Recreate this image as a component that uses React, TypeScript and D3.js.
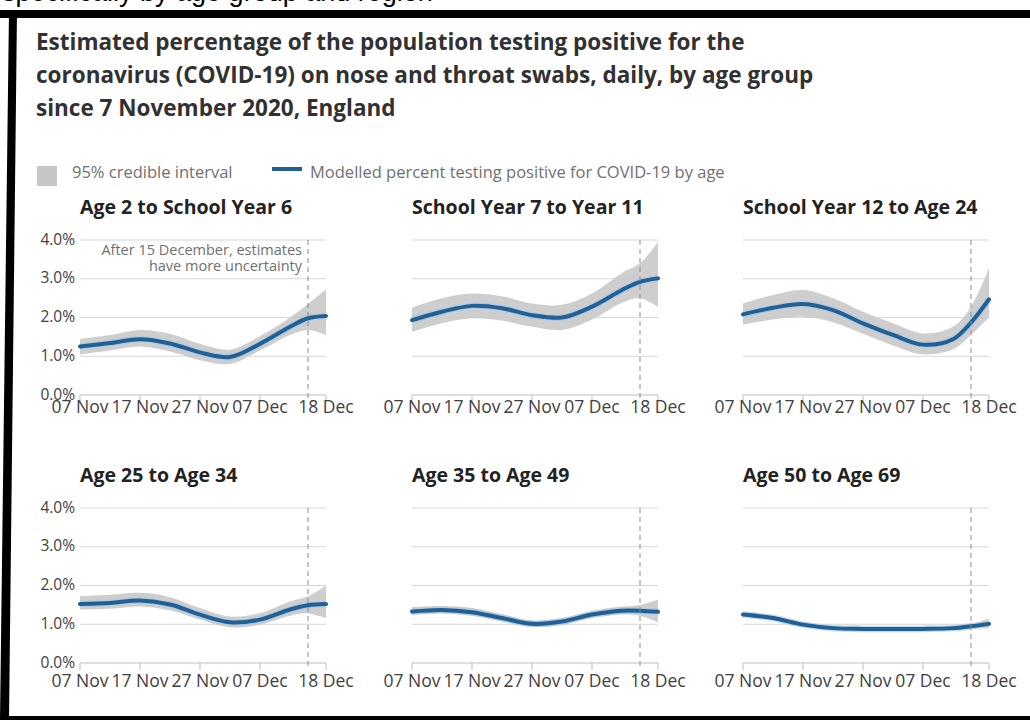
import * as d3 from "d3";
import { useEffect, useRef } from "react";

// sample days after 7 Nov 2020
const days = [0, 5, 10, 15, 20, 25, 30, 35, 38, 41];

const panelTitles = [
  "Age 2 to School Year 6",
  "School Year 7 to Year 11",
  "School Year 12 to Age 24",
  "Age 25 to Age 34",
  "Age 35 to Age 49",
  "Age 50 to Age 69",
];

const modelled = [
  [1.25, 1.34, 1.44, 1.33, 1.1, 0.98, 1.32, 1.76, 1.98, 2.04],
  [1.93, 2.15, 2.3, 2.24, 2.06, 2.0, 2.28, 2.71, 2.92, 3.01],
  [2.08, 2.25, 2.35, 2.19, 1.85, 1.55, 1.3, 1.44, 1.87, 2.47],
  [1.52, 1.55, 1.61, 1.51, 1.25, 1.05, 1.12, 1.38, 1.49, 1.52],
  [1.33, 1.37, 1.31, 1.16, 1.01, 1.07, 1.25, 1.35, 1.35, 1.32],
  [1.25, 1.16, 0.99, 0.9, 0.88, 0.88, 0.88, 0.9, 0.95, 1.01],
];

const upper = [
  [1.45, 1.55, 1.68, 1.58, 1.32, 1.17, 1.52, 2.0, 2.35, 2.72],
  [2.26, 2.5, 2.62, 2.55, 2.36, 2.33, 2.62, 3.15, 3.4, 3.95],
  [2.36, 2.58, 2.71, 2.5, 2.15, 1.85, 1.59, 1.76, 2.28, 3.27],
  [1.72, 1.76, 1.81, 1.7, 1.42, 1.2, 1.29, 1.59, 1.72, 2.0],
  [1.44, 1.47, 1.42, 1.26, 1.1, 1.16, 1.35, 1.46, 1.5, 1.64],
  [1.3, 1.21, 1.04, 0.95, 0.93, 0.93, 0.93, 0.95, 1.01, 1.15],
];

const lower = [
  [1.05, 1.15, 1.25, 1.12, 0.9, 0.8, 1.15, 1.55, 1.68, 1.55],
  [1.63, 1.85, 1.98, 1.92, 1.76, 1.68, 1.95, 2.38, 2.5, 2.28],
  [1.81, 1.95, 2.02, 1.88, 1.58, 1.28, 1.05, 1.18, 1.55, 2.0],
  [1.38, 1.4, 1.46, 1.36, 1.12, 0.92, 0.99, 1.22, 1.28, 1.16],
  [1.24, 1.28, 1.22, 1.07, 0.93, 0.98, 1.16, 1.25, 1.22, 1.05],
  [1.2, 1.11, 0.94, 0.85, 0.83, 0.83, 0.83, 0.85, 0.89, 0.9],
];

const xTickDays = [0, 10, 20, 30, 41];
const xTickLabels = ["07 Nov", "17 Nov", "27 Nov", "07 Dec", "18 Dec"];
const yTicks = [0, 1, 2, 3, 4];
const cutoffDay = 38; // 15 December

const BLUE = "#206095";
const FONT = "'Open Sans', sans-serif";

export default function App() {
  const svgRef = useRef<SVGSVGElement | null>(null);

  useEffect(() => {
    const svg = d3.select(svgRef.current);
    svg.selectAll("*").remove();

    svg.append("rect").attr("width", 1030).attr("height", 720).attr("fill", "#fff");

    // clipped text of the surrounding page, only descenders show
    svg
      .append("text")
      .attr("x", 2)
      .attr("y", 1)
      .attr("font-family", "'Liberation Sans', sans-serif")
      .attr("font-size", 27)
      .attr("fill", "#000")
      .text("specifically by age group and region");

    // screenshot frame
    svg.append("rect").attr("x", 0).attr("y", 10).attr("width", 1030).attr("height", 8).attr("fill", "#000");
    svg.append("polygon").attr("points", "9,10 17,10 9,720 0,720").attr("fill", "#000");
    svg.append("rect").attr("x", 0).attr("y", 716).attr("width", 1030).attr("height", 4).attr("fill", "#000");

    // title
    const titleLines = [
      "Estimated percentage of the population testing positive for the",
      "coronavirus (COVID-19) on nose and throat swabs, daily, by age group",
      "since 7 November 2020, England",
    ];
    svg
      .append("g")
      .selectAll("text")
      .data(titleLines)
      .join("text")
      .attr("x", 36)
      .attr("y", (_, i) => 50 + i * 33)
      .attr("font-family", FONT)
      .attr("font-weight", 700)
      .attr("font-size", 22.5)
      .attr("fill", "#323132")
      .text((d) => d);

    // legend
    const legend = svg.append("g").attr("font-family", FONT).attr("font-size", 16.5).attr("fill", "#707071");
    legend.append("rect").attr("x", 37).attr("y", 166).attr("width", 20).attr("height", 20).attr("fill", "#c6c6c6");
    legend.append("text").attr("x", 72).attr("y", 178).text("95% credible interval");
    legend
      .append("line")
      .attr("x1", 272)
      .attr("x2", 302)
      .attr("y1", 169)
      .attr("y2", 169)
      .attr("stroke", BLUE)
      .attr("stroke-width", 4);
    legend.append("text").attr("x", 310).attr("y", 178).text("Modelled percent testing positive for COVID-19 by age");

    const colX = [80, 412, 743];
    const rowTop = [240, 508];
    const plotW = 246;
    const plotH = 155;
    const labelOffset = [18, 24];

    panelTitles.forEach((title, p) => {
      const col = p % 3;
      const row = Math.floor(p / 3);
      const g = svg.append("g").attr("transform", `translate(${colX[col]},${rowTop[row]})`);

      const x = d3.scaleLinear().domain([0, 41]).range([0, plotW]);
      const y = d3.scaleLinear().domain([0, 4]).range([plotH, 0]);

      g.append("text")
        .attr("x", 0)
        .attr("y", -26)
        .attr("font-family", FONT)
        .attr("font-weight", 700)
        .attr("font-size", 19.5)
        .attr("fill", "#222")
        .text(title);

      // gridlines
      g.selectAll("line.grid")
        .data(yTicks.slice(1))
        .join("line")
        .attr("class", "grid")
        .attr("x1", 0)
        .attr("x2", plotW)
        .attr("y1", (d) => y(d))
        .attr("y2", (d) => y(d))
        .attr("stroke", "#d6d6d6")
        .attr("stroke-width", 1);

      // axis line + ticks
      g.append("line")
        .attr("x1", 0)
        .attr("x2", plotW)
        .attr("y1", plotH)
        .attr("y2", plotH)
        .attr("stroke", "#bdbdbd");
      g.selectAll("line.tick")
        .data(xTickDays)
        .join("line")
        .attr("class", "tick")
        .attr("x1", (d) => x(d))
        .attr("x2", (d) => x(d))
        .attr("y1", plotH)
        .attr("y2", plotH + 7)
        .attr("stroke", "#bdbdbd");
      g.selectAll("text.xl")
        .data(xTickDays)
        .join("text")
        .attr("class", "xl")
        .attr("x", (d) => x(d))
        .attr("y", plotH + labelOffset[row])
        .attr("text-anchor", "middle")
        .attr("font-family", FONT)
        .attr("font-size", 17.5)
        .attr("fill", "#414042")
        .text((_, i) => xTickLabels[i]);

      if (col === 0) {
        g.selectAll("text.yl")
          .data(yTicks)
          .join("text")
          .attr("class", "yl")
          .attr("x", -5)
          .attr("y", (d) => y(d))
          .attr("dy", "0.3em")
          .attr("text-anchor", "end")
          .attr("font-family", FONT)
          .attr("font-size", 15.5)
          .attr("fill", "#414042")
          .text((d) => `${d.toFixed(1)}%`);
      }

      const pts = days.map((d, i) => ({ d, m: modelled[p][i], lo: lower[p][i], hi: upper[p][i] }));

      const area = d3
        .area<(typeof pts)[number]>()
        .x((d) => x(d.d))
        .y0((d) => y(d.lo))
        .y1((d) => y(d.hi))
        .curve(d3.curveCatmullRom.alpha(0.5));
      g.append("path").attr("d", area(pts)).attr("fill", "#c9c9c9").attr("opacity", 0.9);

      const line = d3
        .line<(typeof pts)[number]>()
        .x((d) => x(d.d))
        .y((d) => y(d.m))
        .curve(d3.curveCatmullRom.alpha(0.5));
      g.append("path")
        .attr("d", line(pts))
        .attr("fill", "none")
        .attr("stroke", "#a9c8e6")
        .attr("stroke-width", 6.5)
        .attr("opacity", 0.7);
      g.append("path")
        .attr("d", line(pts))
        .attr("fill", "none")
        .attr("stroke", BLUE)
        .attr("stroke-width", 4)
        .attr("stroke-linecap", "round");

      // uncertainty cutoff
      g.append("line")
        .attr("x1", x(cutoffDay))
        .attr("x2", x(cutoffDay))
        .attr("y1", 0)
        .attr("y2", plotH + 7)
        .attr("stroke", "#8c8c8c")
        .attr("stroke-dasharray", "5,4");

      if (p === 0) {
        const note = g
          .append("text")
          .attr("text-anchor", "end")
          .attr("font-family", FONT)
          .attr("font-size", 14.5)
          .attr("fill", "#707071");
        note.append("tspan").attr("x", x(cutoffDay) - 6).attr("y", 15).text("After 15 December, estimates");
        note.append("tspan").attr("x", x(cutoffDay) - 6).attr("y", 31).text("have more uncertainty");
      }
    });
  }, []);

  return (
    <svg
      ref={svgRef}
      width={1030}
      height={720}
      style={{ position: "absolute", left: 0, top: 0, display: "block" }}
    />
  );
}
